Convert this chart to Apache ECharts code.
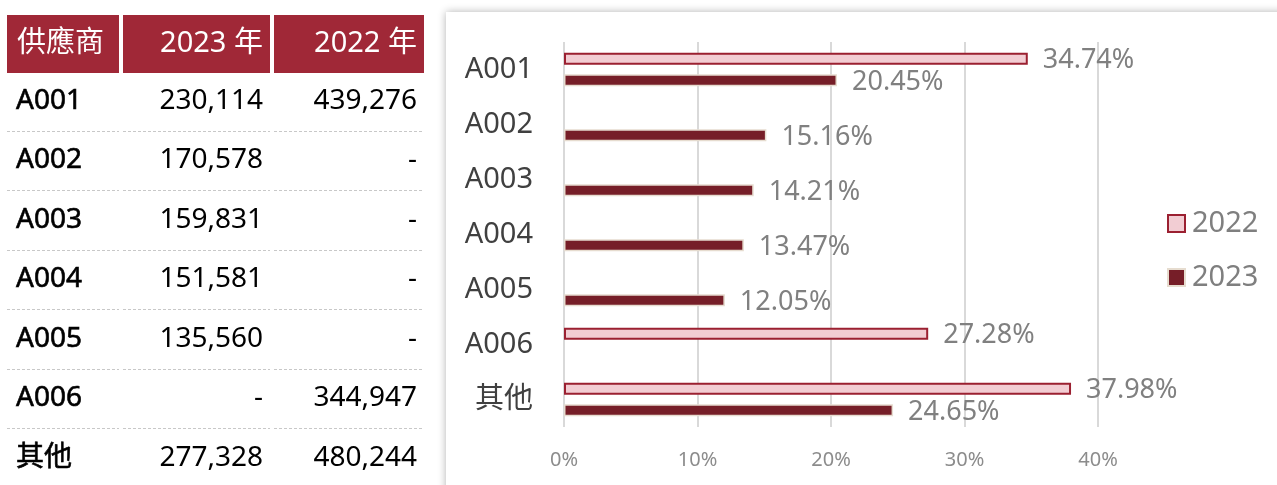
<!DOCTYPE html>
<html>
<head>
<meta charset="utf-8">
<script src="https://cdn.jsdelivr.net/npm/echarts@6/dist/echarts.min.js"></script>
<style>
html,body{margin:0;padding:0;background:#fff;}
#main{width:1277px;height:485px;}
</style>
</head>
<body>
<div id="main"></div>
<script>
const headers = ['供應商', '2023 年', '2022 年'];
const suppliers = ['A001', 'A002', 'A003', 'A004', 'A005', 'A006', '其他'];
const amount2023 = ['230,114', '170,578', '159,831', '151,581', '135,560', '-', '277,328'];
const amount2022 = ['439,276', '-', '-', '-', '-', '344,947', '480,244'];
const seriesNames = ['2022', '2023'];
const share2022 = [34.74, null, null, null, null, 27.28, 37.98];
const share2023 = [20.45, 15.16, 14.21, 13.47, 12.05, null, 24.65];
const xTickStep = 10;
const xMax = 40;

const FONT = "'Noto Sans', 'Noto Sans CJK TC', sans-serif";
const chart = echarts.init(document.getElementById('main'));

// table layout
const cols = [[7, 119], [123, 270], [274, 424]];
const headerTop = 15, headerH = 58;
const rowY0 = 101, rowStep = 59.5;
const graphics = [];

graphics.push({
  type: 'rect', z: -10,
  shape: { x: 446, y: 12, width: 900, height: 520 },
  style: { fill: '#fff', shadowBlur: 8, shadowColor: 'rgba(0,0,0,0.3)', shadowOffsetX: 0, shadowOffsetY: 0 }
});

cols.forEach(function (c, ci) {
  graphics.push({
    type: 'rect',
    shape: { x: c[0], y: headerTop, width: c[1] - c[0], height: headerH },
    style: { fill: '#A02837' }
  });
  graphics.push({
    type: 'text',
    x: ci === 0 ? c[0] + 10 : c[1] - 7,
    y: headerTop + headerH / 2,
    style: {
      text: headers[ci], fill: '#fff', font: '29px ' + FONT,
      align: ci === 0 ? 'left' : 'right', verticalAlign: 'middle'
    }
  });
});

suppliers.forEach(function (s, i) {
  const cy = rowY0 + i * rowStep;
  const vals = [s, amount2023[i], amount2022[i]];
  vals.forEach(function (v, ci) {
    const c = cols[ci];
    const st = {
      text: v, fill: '#000',
      font: '28px ' + FONT,
      align: ci === 0 ? 'left' : 'right', verticalAlign: 'middle'
    };
    if (ci === 0) { st.stroke = '#000'; st.lineWidth = 0.6; }
    graphics.push({
      type: 'text',
      x: ci === 0 ? c[0] + 9 : c[1] - 7,
      y: cy,
      style: st
    });
  });
  if (i < suppliers.length - 1) {
    const ly = Math.round(cy + rowStep / 2) + 0.5;
    cols.forEach(function (c) {
      graphics.push({
        type: 'line',
        shape: { x1: c[0], y1: ly, x2: c[1], y2: ly },
        style: { stroke: '#C8C8C8', lineWidth: 1, lineDash: [3, 2] }
      });
    });
  }
});

const option = {
  animation: false,
  textStyle: { fontFamily: FONT },
  graphic: { elements: graphics },
  grid: { left: 564, right: 179, top: 42, bottom: 58, containLabel: false },
  legend: {
    orient: 'vertical', left: 1162, top: 204,
    itemWidth: 17, itemHeight: 17, itemGap: 25, icon: 'rect',
    data: seriesNames,
    textStyle: { fontSize: 29, color: '#7F7F7F', fontFamily: FONT, padding: [0, 0, 0, 2] }
  },
  xAxis: {
    type: 'value', min: 0, max: xMax, interval: xTickStep,
    axisLine: { show: false }, axisTick: { show: false },
    splitLine: { show: true, lineStyle: { color: '#D9D9D9', width: 2 } },
    axisLabel: { formatter: '{value}%', fontSize: 20, color: '#8C8C8C', margin: 23, fontFamily: FONT }
  },
  yAxis: {
    type: 'category', inverse: true, data: suppliers,
    axisLine: { show: false }, axisTick: { show: false },
    axisLabel: { fontSize: 29, color: '#404040', margin: 31, fontFamily: FONT }
  },
  series: [
    {
      name: seriesNames[0], type: 'bar', data: share2022,
      barWidth: 12, barGap: '80%',
      itemStyle: { color: '#F2CDD3', borderColor: '#9B2031', borderWidth: 2 },
      label: {
        show: true, position: 'right', distance: 15, offset: [0, 2],
        formatter: function (p) { return p.value.toFixed(2) + '%'; },
        fontSize: 27, color: '#808080', fontFamily: FONT
      }
    },
    {
      name: seriesNames[1], type: 'bar', data: share2023,
      barWidth: 12, barGap: '80%',
      itemStyle: { color: '#761E28', borderColor: '#E6DCCF', borderWidth: 1.5 },
      label: {
        show: true, position: 'right', distance: 15, offset: [0, 2],
        formatter: function (p) { return p.value.toFixed(2) + '%'; },
        fontSize: 27, color: '#808080', fontFamily: FONT
      }
    }
  ]
};
chart.setOption(option);
</script>
</body>
</html>
